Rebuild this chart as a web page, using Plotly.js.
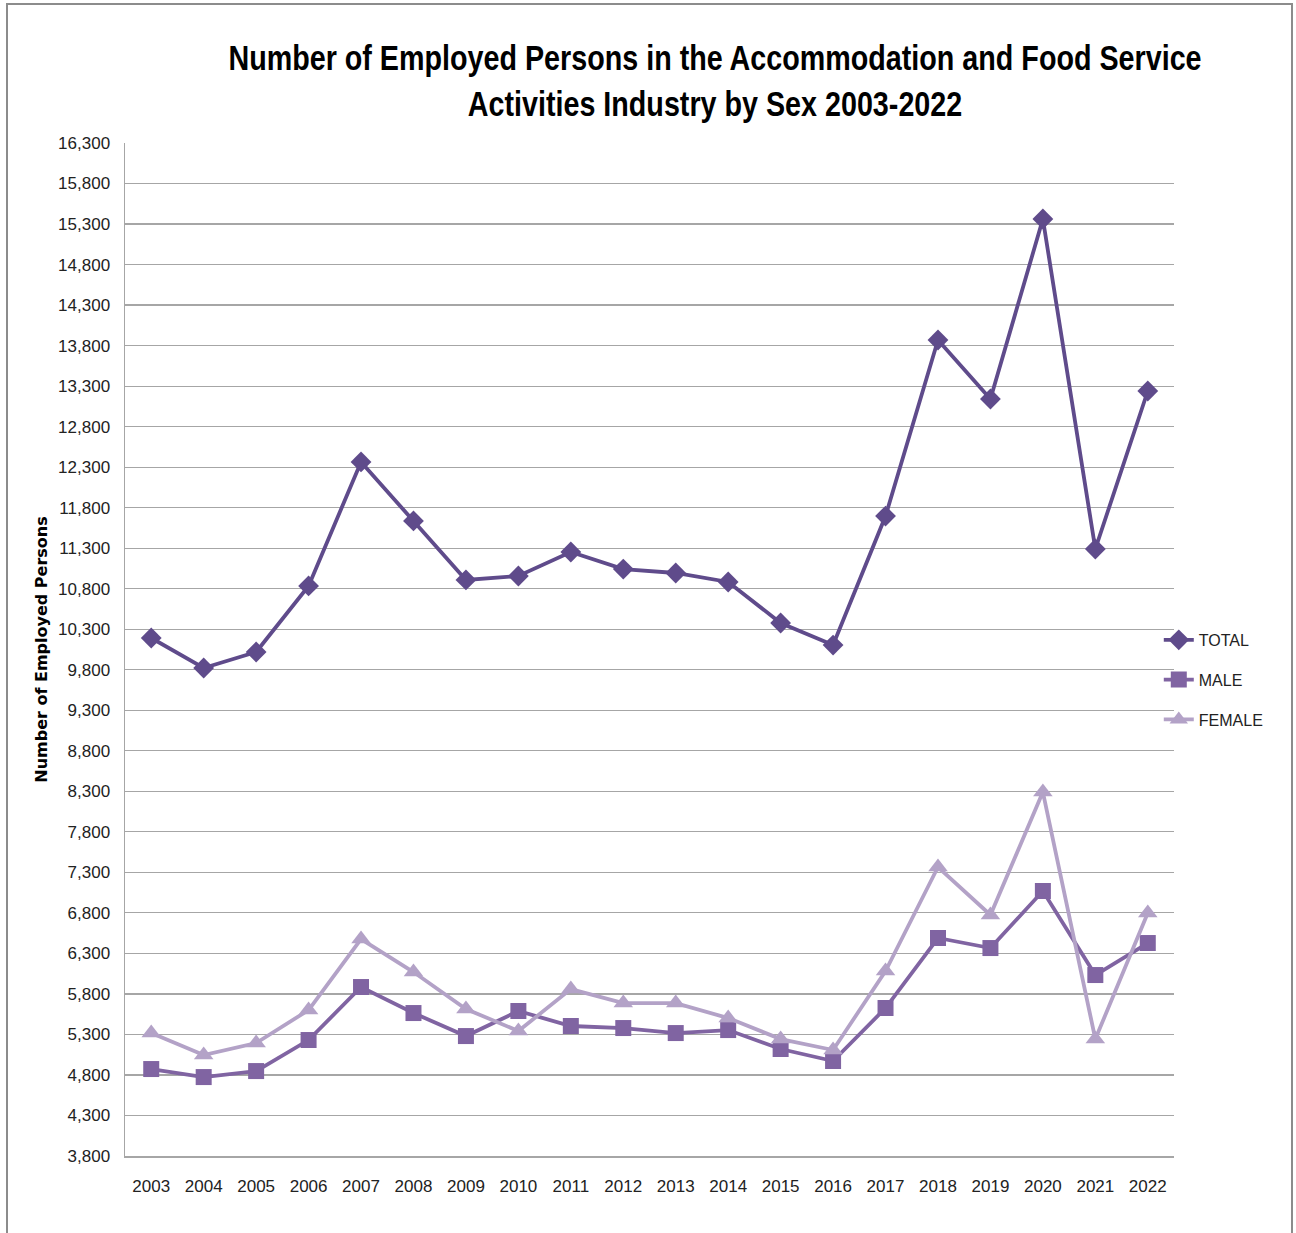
<!DOCTYPE html>
<html>
<head>
<meta charset="utf-8">
<script src="https://cdn.plot.ly/plotly-3.0.1.min.js"></script>
<style>
  html, body { margin: 0; padding: 0; background: #ffffff; overflow: hidden; }
  #frame { position: absolute; left: 6px; top: 3px; width: 1287px; height: 1260px; border: 2px solid #8c8c8c; box-sizing: border-box; }
  #chart { position: absolute; left: 0; top: 0; width: 1296px; height: 1233px; }
</style>
</head>
<body>
<div id="frame"></div>
<div id="chart"></div>
<script>
const years = ["2003","2004","2005","2006","2007","2008","2009","2010","2011","2012","2013","2014","2015","2016","2017","2018","2019","2020","2021","2022"];
const totalValues = [10192, 9822, 10019, 10834, 12364, 11636, 10908, 10957, 11253, 11043, 10994, 10883, 10377, 10105, 11697, 13869, 13141, 15362, 11290, 13240];
const maleValues = [4873, 4774, 4848, 5231, 5885, 5564, 5280, 5589, 5404, 5379, 5317, 5354, 5120, 4972, 5626, 6490, 6366, 7070, 6033, 6428];
const femaleValues = [5317, 5046, 5194, 5601, 6477, 6070, 5614, 5342, 5860, 5687, 5687, 5502, 5243, 5108, 6082, 7366, 6774, 8291, 5243, 6798];
const seriesNames = ["TOTAL", "MALE", "FEMALE"];
const yTickValues = [3800,4300,4800,5300,5800,6300,6800,7300,7800,8300,8800,9300,9800,10300,10800,11300,11800,12300,12800,13300,13800,14300,14800,15300,15800,16300];

const traces = [
  {
    x: years, y: totalValues, name: seriesNames[0], type: 'scatter', mode: 'lines+markers',
    legendgroup: 'a',
    line: { color: '#5f4b8b', width: 3.8 },
    marker: { symbol: 'diamond', size: 16, color: '#5f4b8b' }
  },
  {
    x: years, y: maleValues, name: seriesNames[1], type: 'scatter', mode: 'lines+markers',
    legendgroup: 'b',
    line: { color: '#8064a2', width: 3.8 },
    marker: { symbol: 'square', size: 16, color: '#8064a2' }
  },
  {
    x: years, y: femaleValues, name: seriesNames[2], type: 'scatter', mode: 'lines+markers',
    legendgroup: 'c',
    line: { color: '#b3a2c7', width: 3.8 },
    marker: { symbol: 'triangle-up', size: 17, color: '#b3a2c7' }
  }
];

const tickFont = { family: '"Liberation Sans", Arial, sans-serif', size: 17, color: '#222222' };

const layout = {
  width: 1296, height: 1233,
  paper_bgcolor: 'rgba(0,0,0,0)', plot_bgcolor: 'rgba(0,0,0,0)',
  margin: { l: 125, r: 122, t: 143, b: 77 },
  title: {
    text: 'Number of Employed Persons in the Accommodation and Food Service<br>Activities Industry by Sex 2003-2022',
    font: { family: '"Liberation Sans", Arial, sans-serif', size: 35, color: '#000000', weight: 'bold' },
    x: 0.5517, xanchor: 'center', y: 0.943, yanchor: 'top'
  },
  xaxis: {
    type: 'category', range: [-0.5, 19.5],
    showgrid: false, showline: true, linecolor: '#a6a6a6', linewidth: 1.5,
    ticks: '', tickfont: tickFont, ticklabelstandoff: 14, automargin: false
  },
  yaxis: {
    range: [3800, 16300], tickvals: yTickValues, tickformat: ',d',
    showgrid: true, gridcolor: '#a6a6a6', gridwidth: 1.2,
    showline: true, linecolor: '#a6a6a6', linewidth: 1.5, zeroline: false,
    ticks: '', tickfont: tickFont, ticklabelstandoff: 10,
    title: { text: 'Number of Employed Persons', font: { family: '"DejaVu Sans", Verdana, sans-serif', size: 16, color: '#000000', weight: 'bold' }, standoff: 6 },
    automargin: false
  },
  legend: {
    x: 0.9855, xanchor: 'left', y: 0.47, yanchor: 'middle',
    font: { family: '"Liberation Sans", Arial, sans-serif', size: 16, color: '#222222' },
    traceorder: 'grouped', tracegroupgap: 16, bgcolor: 'rgba(0,0,0,0)'
  },
  showlegend: true
};

Plotly.newPlot('chart', traces, layout, { displayModeBar: false, staticPlot: true }).then(function () {
  const g = document.querySelector('.g-gtitle');
  if (g) {
    const bb = g.getBBox();
    const cx = bb.x + bb.width / 2;
    g.setAttribute('transform', 'translate(' + cx + ',0) scale(0.82,1) translate(' + (-cx) + ',0)');
  }
});
</script>
</body>
</html>
